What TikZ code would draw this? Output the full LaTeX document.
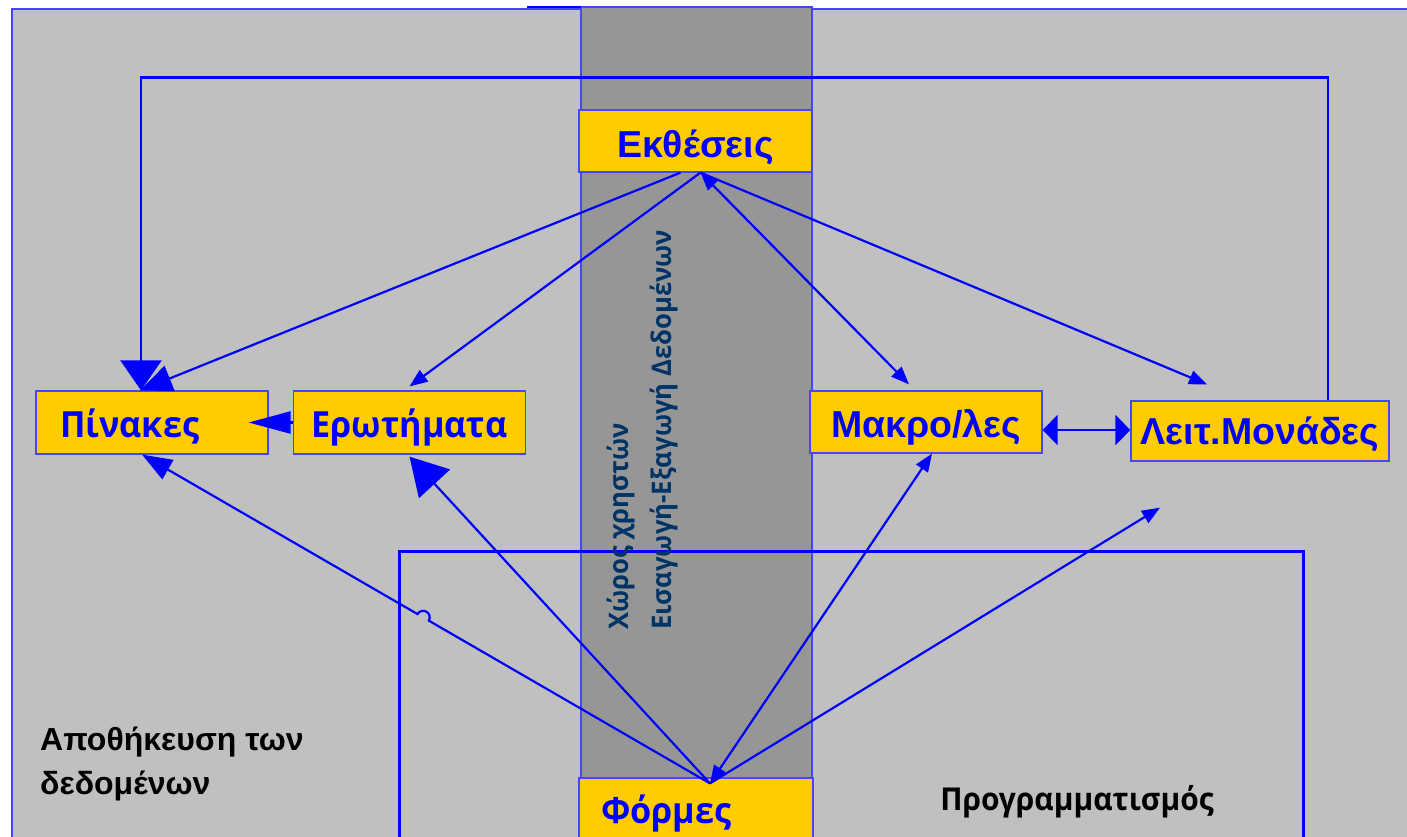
\documentclass[tikz,border=0pt]{standalone}
\usepackage{fontspec}
\setmainfont{Liberation Sans}
\newfontfamily\humfont[FakeStretch=0.95]{Open Sans}
\usetikzlibrary{arrows.meta}

\definecolor{pagegray}{RGB}{192,192,192}
\definecolor{lanegray}{RGB}{150,150,150}
\definecolor{boxyellow}{RGB}{255,204,0}
\definecolor{linkblue}{RGB}{0,0,255}
\definecolor{edgeblue}{RGB}{70,70,255}
\definecolor{lanenavy}{RGB}{0,51,102}

\tikzset{
	obj/.style={draw=edgeblue,line width=1.2pt,fill=boxyellow,text=linkblue,
		font=\bfseries\fontsize{37.5}{40}\selectfont,minimum height=63pt,inner sep=0pt,
		text height=30pt,text depth=0pt},
	humobj/.style={obj,font=\humfont\bfseries\fontsize{36}{40}\selectfont,text height=29pt},
	link/.style={draw=linkblue,line width=2.2pt},
	onehead/.style={-{Triangle[length=18pt,width=14pt]}},
	twohead/.style={{Triangle[length=18pt,width=14pt]}-{Triangle[length=18pt,width=14pt]}}
}

\begin{document}
\begin{tikzpicture}[x=1pt,y=-1pt]
	\useasboundingbox (0,0) rectangle (1407,836);
	\clip (0,0) rectangle (1407,836);
	\filldraw[fill=pagegray,draw=edgeblue,line width=1.2pt] (12,9) rectangle (1420,850);
	\filldraw[fill=lanegray,draw=edgeblue,line width=1.2pt] (581,7) rectangle (812,850);
	\draw[linkblue,line width=1.5pt] (527,7) -- (581,7);
	% programming area
	\draw[link,line width=3pt] (399,850) -- (399,551) -- (1303,551) -- (1303,850);

	\node[rotate=90,anchor=south west,align=left,inner sep=0pt,text=lanenavy,
		font=\humfont\bfseries\fontsize{27}{43}\selectfont] (lane) at (678,630)
		{Χώρος χρηστών\\Εισαγωγή-Εξαγωγή Δεδομένων};

	\node[obj,minimum width=233pt,minimum height=62pt,text height=32pt] (rep) at (695.5,141) {Εκθέσεις};
	\node[humobj,text width=184pt,inner xsep=24pt] (tab) at (152,422.5) {Πίνακες};
	\node[humobj,text width=200pt,inner xsep=16pt,align=center] (qry) at (409.5,422.5) {Ερωτήματα};
	\node[obj,minimum width=232pt,minimum height=62pt] (mac) at (926,422) {Μακρο/λες};
	\node[obj,minimum width=258pt,minimum height=60pt,text height=26pt] (mod) at (1260,431) {Λειτ.Μονάδες};
	\node[humobj,text width=190pt,inner xsep=22pt,minimum height=62pt] (frm) at (696,809) {Φόρμες};

	\node[anchor=north west,align=left,inner sep=0pt,
		font=\bfseries\fontsize{32}{44}\selectfont] (store) at (40,727) {Αποθήκευση των\\δεδομένων};
	\node[anchor=base,inner sep=0pt,font=\humfont\bfseries\fontsize{31.5}{36}\selectfont] (prog) at (1077,810) {Προγραμματισμός};

	\coordinate (hub) at ([xshift=14pt,yshift=-6pt]frm.north);
	\coordinate (modin) at ([xshift=-100pt,yshift=-46pt]mod.south);

	\draw[link,-{Triangle[length=30pt,width=41pt]}] ([xshift=68pt]mod.north) -- ++(0,-323) -| ([xshift=-11pt]tab.north);
	\draw[link,-{Triangle[length=32pt,width=27pt]}] ([xshift=-15pt]rep.south) -- ([xshift=-12pt]tab.north);
	\draw[link,onehead] ([xshift=5pt]rep.south) -- ([yshift=4pt]qry.north);
	\draw[link,twohead] ([xshift=5pt]rep.south) -- ([xshift=-17pt,yshift=6pt]mac.north);
	\draw[link,onehead] ([xshift=5pt]rep.south) -- ([xshift=-53pt,yshift=16pt]mod.north);
	\draw[link,-{Triangle[length=42pt,width=22pt]}] (qry.west) -- ([xshift=-20pt]tab.east);
	\draw[link,{Triangle[length=15pt,width=30pt]}-{Triangle[length=15pt,width=30pt]}] ([yshift=-8pt]mac.east) -- ([yshift=1pt]mod.west);

	\path (hub) -- ([xshift=-10pt]tab.south) coordinate[pos=0.495] (hopA) coordinate[pos=0.515] (hopB);
	\draw[link,-{Triangle[length=30pt,width=22pt]}] (hub) -- (hopA)
		arc[start angle=-30.08,end angle=149.92,radius=6.56pt] -- ([xshift=-10pt]tab.south);
	\draw[link,-{Triangle[length=37pt,width=42pt]}] (hub) -- ([yshift=-2pt]qry.south);
	\draw[link,twohead] (hub) -- ([xshift=6pt]mac.south);
	\draw[link,onehead] (hub) -- (modin);
\end{tikzpicture}
\end{document}
